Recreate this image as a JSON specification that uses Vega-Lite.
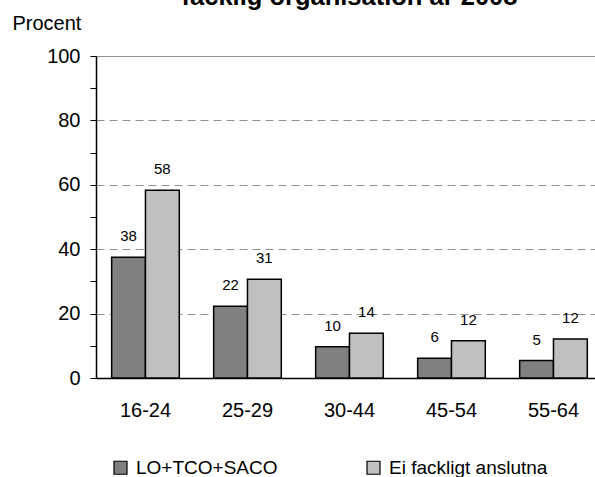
{
  "$schema": "https://vega.github.io/schema/vega-lite/v6.json",
  "width": 499,
  "height": 322,
  "autosize": {"type": "none"},
  "padding": {"left": 96, "top": 56, "right": 0, "bottom": 99},
  "background": "white",
  "title": {"text": "facklig organisation år 2008", "fontSize": 25.5, "fontWeight": "bold", "font": "Liberation Sans", "color": "black", "anchor": "middle", "baseline": "alphabetic", "offset": 0, "dx": 4, "dy": 17},
  "config": {"font": "Liberation Sans", "view": {"stroke": null}},
  "data": {"values": [
    {"age": "16-24", "group": "LO+TCO+SACO", "value": 37.5},
    {"age": "16-24", "group": "Ei fackligt anslutna", "value": 58.3},
    {"age": "25-29", "group": "LO+TCO+SACO", "value": 22.3},
    {"age": "25-29", "group": "Ei fackligt anslutna", "value": 30.7},
    {"age": "30-44", "group": "LO+TCO+SACO", "value": 9.7},
    {"age": "30-44", "group": "Ei fackligt anslutna", "value": 13.9},
    {"age": "45-54", "group": "LO+TCO+SACO", "value": 6.1},
    {"age": "45-54", "group": "Ei fackligt anslutna", "value": 11.6},
    {"age": "55-64", "group": "LO+TCO+SACO", "value": 5.4},
    {"age": "55-64", "group": "Ei fackligt anslutna", "value": 12.1}
  ]},
  "encoding": {
    "x": {"field": "age", "type": "nominal", "sort": null,
      "scale": {"paddingInner": 0.337, "paddingOuter": 0.1145, "align": 0.67},
      "axis": {"title": null, "labelAngle": 0, "labelFontSize": 20, "labelColor": "black", "ticks": false, "domainColor": "black", "domainWidth": 1.5, "labelPadding": 22}},
    "xOffset": {"field": "group", "type": "nominal", "sort": ["LO+TCO+SACO", "Ei fackligt anslutna"]},
    "y": {"field": "value", "type": "quantitative",
      "scale": {"domain": [0, 100]},
      "axis": {"title": "Procent", "titleAngle": 0, "titleFontSize": 20, "titleFontWeight": "normal", "titleColor": "black", "titleX": -84, "titleY": -27, "titleAlign": "left", "titleBaseline": "alphabetic",
        "values": [0, 10, 20, 30, 40, 50, 60, 70, 80, 90, 100],
        "labelExpr": "datum.value % 20 === 0 ? datum.label : ''",
        "labelFontSize": 20, "labelColor": "black", "labelPadding": 10,
        "tickColor": "black", "tickSize": 6, "domainColor": "black", "domainWidth": 1.5,
        "grid": true, "gridColor": "#909090",
        "gridOpacity": {"condition": {"test": "datum.value % 20 !== 0 || datum.value === 0", "value": 0}, "value": 1},
        "gridDash": {"condition": {"test": "datum.value === 100", "value": []}, "value": [8, 5]}}}
  },
  "layer": [
    {
      "mark": {"type": "bar", "stroke": "black", "strokeWidth": 1.5},
      "encoding": {
        "color": {"field": "group", "type": "nominal", "sort": ["LO+TCO+SACO", "Ei fackligt anslutna"],
          "scale": {"domain": ["LO+TCO+SACO", "Ei fackligt anslutna"], "range": ["#808080", "#C0C0C0"]},
          "legend": {"title": null, "orient": "none", "legendX": 15, "legendY": 402, "direction": "horizontal", "symbolType": "square", "symbolSize": 169, "symbolStrokeColor": "black", "symbolStrokeWidth": 1.2, "labelFontSize": 19, "labelColor": "black", "columnPadding": 86, "labelOffset": 6}}
      }
    },
    {
      "mark": {"type": "text", "fontSize": 15, "color": "black", "baseline": "bottom", "dy": -13},
      "encoding": {"text": {"field": "value", "type": "quantitative", "format": ".0f"}}
    }
  ]
}
